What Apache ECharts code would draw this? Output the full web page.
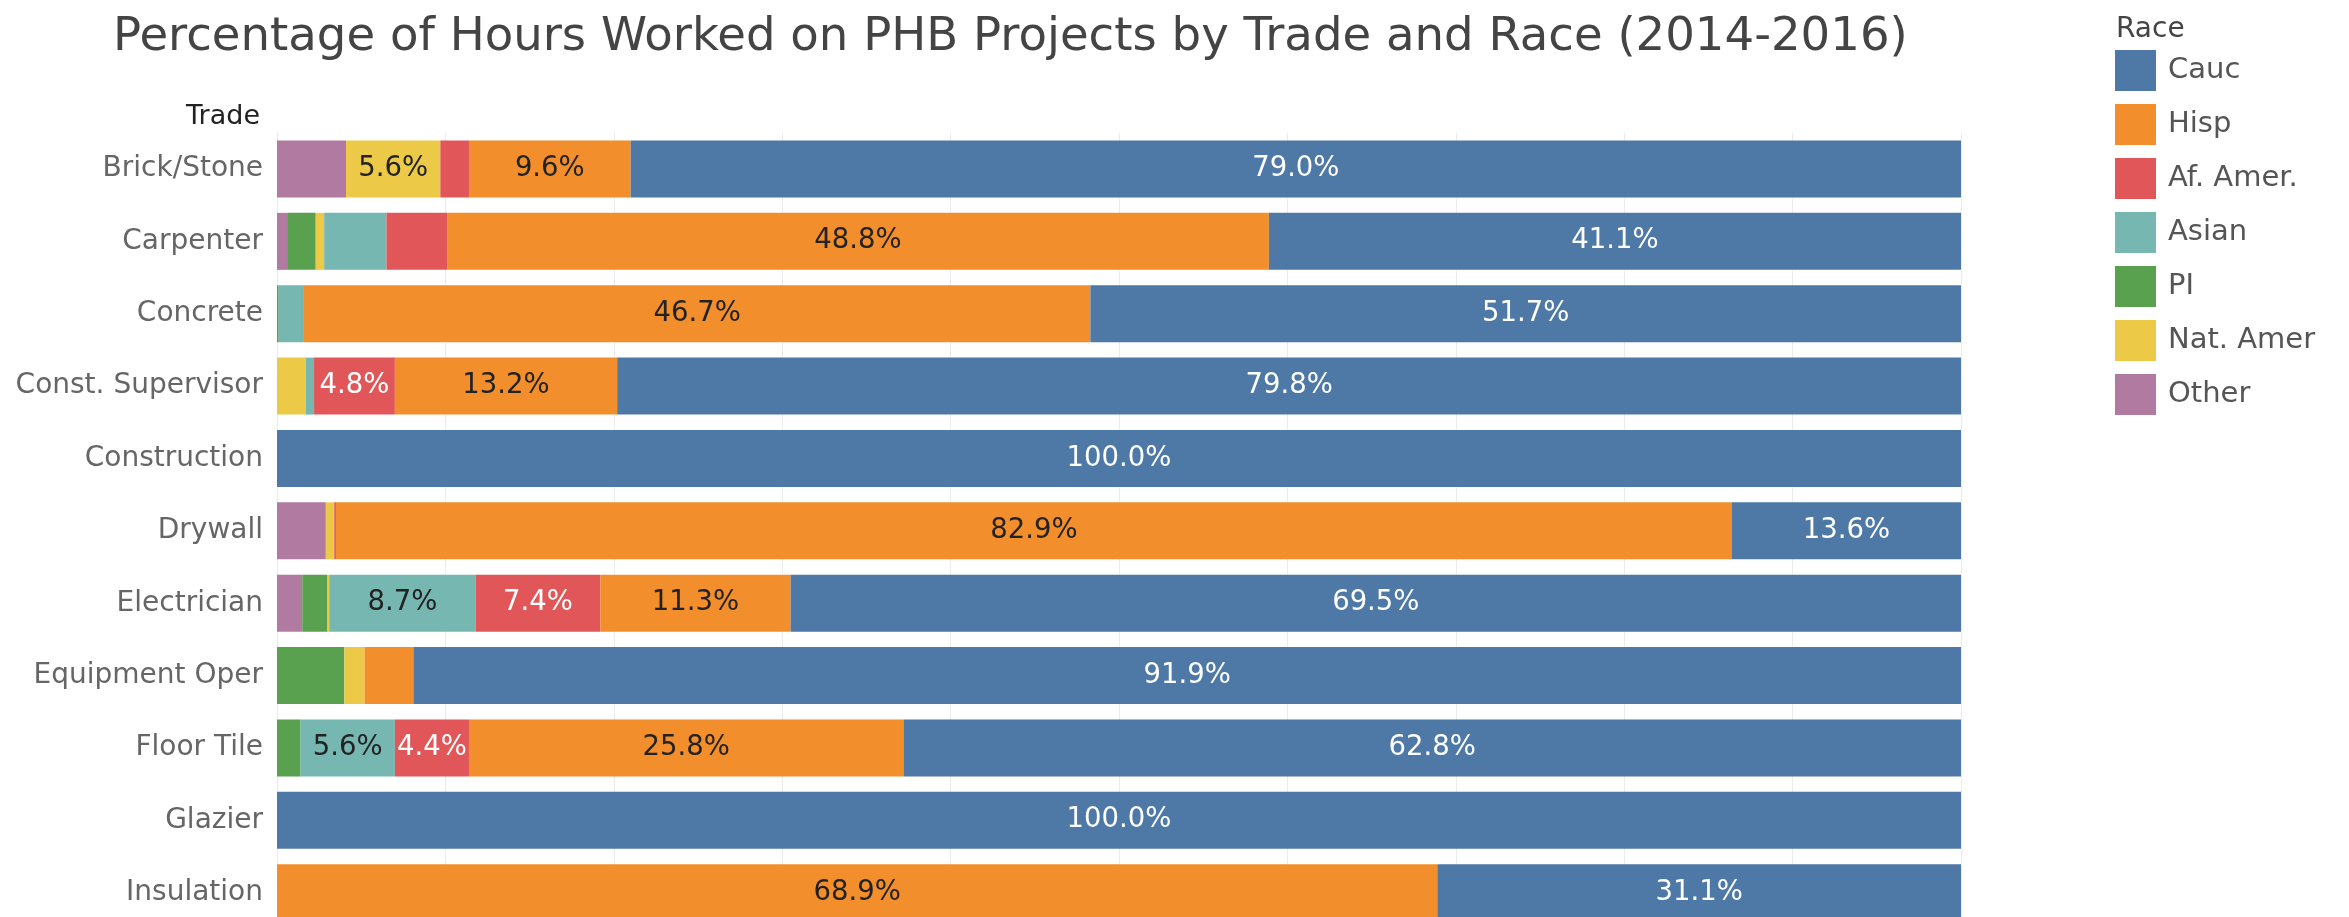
<!DOCTYPE html>
<html>
<head>
<meta charset="utf-8">
<script src="https://cdn.jsdelivr.net/npm/echarts@6/dist/echarts.min.js"></script>
<style>
html,body{margin:0;padding:0;background:#fff;overflow:hidden;}
#chart{width:2349px;height:940px;}
</style>
</head>
<body>
<div id="chart"></div>
<script>
// ---- data ----
const categories = ['Brick/Stone','Carpenter','Concrete','Const. Supervisor','Construction','Drywall','Electrician','Equipment Oper','Floor Tile','Glazier','Insulation'];
const cauc    = [79.0, 41.1, 51.7, 79.8, 100.0, 13.6, 69.5, 91.9, 62.8, 100.0, 31.1];
const hisp    = [9.6, 48.8, 46.7, 13.2, 0, 82.9, 11.3, 2.9, 25.8, 0, 68.9];
const afAmer  = [1.7, 3.6, 0, 4.8, 0, 0.1, 7.4, 0, 4.4, 0, 0];
const asian   = [0, 3.7, 1.5, 0.5, 0, 0, 8.7, 0, 5.6, 0, 0];
const pi      = [0, 1.7, 0.1, 0, 0, 0, 1.5, 4.0, 1.4, 0, 0];
const natAmer = [5.6, 0.5, 0, 1.7, 0, 0.5, 0.1, 1.2, 0, 0, 0];
const other   = [4.1, 0.6, 0, 0, 0, 2.9, 1.5, 0, 0, 0, 0];
const legendNames = ['Cauc','Hisp','Af. Amer.','Asian','PI','Nat. Amer','Other'];

const FONT = 'DejaVu Sans';
// stacking order left -> right
const stackDefs = [
  {name:'Other', data: other, color:'#b07aa1', label:'#222'},
  {name:'PI', data: pi, color:'#59a14f', label:'#222'},
  {name:'Nat. Amer', data: natAmer, color:'#edc948', label:'#222'},
  {name:'Asian', data: asian, color:'#76b7b2', label:'#222'},
  {name:'Af. Amer.', data: afAmer, color:'#e15759', label:'#ffffff'},
  {name:'Hisp', data: hisp, color:'#f28e2b', label:'#222'},
  {name:'Cauc', data: cauc, color:'#4e79a7', label:'#ffffff'}
];

const series = stackDefs.map(d => ({
  name: d.name,
  type: 'bar',
  stack: 'total',
  barWidth: 57,
  data: d.data,
  itemStyle: {color: d.color},
  emphasis: {disabled: true},
  label: {
    show: true,
    position: 'inside',
    color: d.label,
    fontFamily: FONT,
    fontSize: 27.5,
    formatter: p => (p.value >= 4.3 ? p.value.toFixed(1) + '%' : '')
  }
}));

const chart = echarts.init(document.getElementById('chart'), null, {renderer:'canvas'});
chart.setOption({
  animation: false,
  backgroundColor: '#ffffff',
  color: stackDefs.map(d => d.color),
  title: [
    {text: 'Percentage of Hours Worked on PHB Projects by Trade and Race (2014-2016)',
     left: 108, top: 9,
     textStyle: {fontFamily: FONT, fontSize: 46.6, fontWeight: 'normal', color: '#444'}},
    {text: 'Trade', right: 2349 - 265, top: 98,
     textStyle: {fontFamily: FONT, fontSize: 27, fontWeight: 'normal', color: '#222'}},
    {text: 'Race', left: 2111, top: 11,
     textStyle: {fontFamily: FONT, fontSize: 28, fontWeight: 'normal', color: '#444'}}
  ],
  legend: {
    data: legendNames,
    orient: 'vertical',
    left: 2115,
    top: 50,
    itemWidth: 41,
    itemHeight: 41,
    itemGap: 13,
    padding: 0,
    icon: 'rect',
    selectedMode: false,
    textStyle: {fontFamily: FONT, fontSize: 29, color: '#555', padding: [0,0,0,7]}
  },
  grid: {left: 277, width: 1684, top: 132.8, height: 796.1, containLabel: false},
  xAxis: {
    type: 'value', min: 0, max: 100, interval: 10,
    axisLabel: {show: false}, axisLine: {show: false}, axisTick: {show: false},
    splitLine: {show: true, lineStyle: {color: '#ececec', width: 1}}
  },
  yAxis: {
    type: 'category', data: categories, inverse: true,
    axisLine: {show: false}, axisTick: {show: false},
    splitLine: {show: false},
    axisLabel: {fontFamily: FONT, fontSize: 28, color: '#666', margin: 14}
  },
  series: series
});
</script>
</body>
</html>
